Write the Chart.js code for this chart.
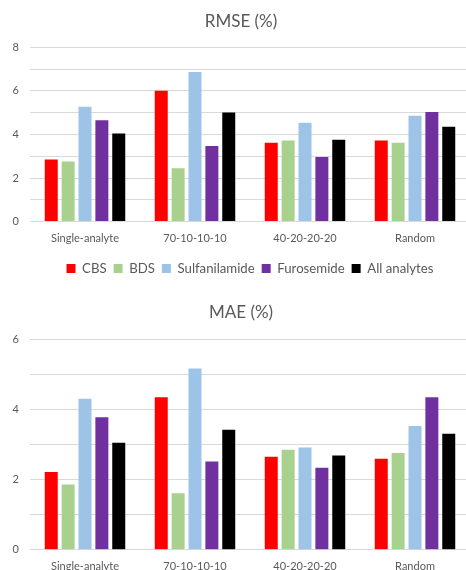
<!DOCTYPE html>
<html>
<head>
<meta charset="utf-8">
<script src="https://cdn.jsdelivr.net/npm/chart.js@4/dist/chart.umd.min.js"></script>
<style>
  html, body { margin: 0; padding: 0; background: #fff; }
  body { width: 466px; height: 570px; overflow: hidden; position: relative; }
  .box { position: absolute; left: 0; width: 490px; }
  #top { top: 0; height: 285px; }
  #bottom { top: 285px; height: 300px; }
</style>
</head>
<body>
<div class="box" id="top"><canvas id="rmseChart"></canvas></div>
<div class="box" id="bottom"><canvas id="maeChart"></canvas></div>
<script>
var categories = ['Single-analyte', '70-10-10-10', '40-20-20-20', 'Random'];
var seriesNames = ['CBS', 'BDS', 'Sulfanilamide', 'Furosemide', 'All analytes'];
var seriesColors = ['#FF0000', '#A9D18E', '#9DC3E6', '#7030A0', '#000000'];

// RMSE (%) per analyte
var rmseCBS = [2.85, 6.01, 3.62, 3.73];
var rmseBDS = [2.76, 2.45, 3.73, 3.62];
var rmseSulf = [5.27, 6.87, 4.54, 4.86];
var rmseFuro = [4.65, 3.47, 2.97, 5.03];
var rmseAll = [4.05, 5.01, 3.76, 4.36];

// MAE (%) per analyte
var maeCBS = [2.22, 4.35, 2.65, 2.60];
var maeBDS = [1.86, 1.61, 2.85, 2.76];
var maeSulf = [4.31, 5.17, 2.92, 3.53];
var maeFuro = [3.78, 2.52, 2.34, 4.35];
var maeAll = [3.05, 3.42, 2.69, 3.31];

var textColor = '#595959';
var gridColor = '#D9D9D9';
var fontName = 'Lato, Carlito, Calibri, sans-serif';

function makeSets(values) {
    return values.map(function (v, i) {
        return {
            label: seriesNames[i],
            data: v,
            backgroundColor: seriesColors[i],
            borderWidth: 0,
            categoryPercentage: 0.767,
            barPercentage: 0.77
        };
    });
}

function makeChart(id, title, values, yMax, opts) {
    var ctx = document.getElementById(id).getContext('2d');
    return new Chart(ctx, {
        type: 'bar',
        data: {
            labels: categories,
            datasets: makeSets(values)
        },
        options: {
            responsive: true,
            maintainAspectRatio: false,
            animation: false,
            layout: {
                padding: { left: 12, right: 20, top: 0, bottom: opts.bottomPad }
            },
            plugins: {
                title: {
                    display: true,
                    text: title,
                    color: textColor,
                    font: { family: fontName, size: 17, weight: 'normal' },
                    padding: { top: opts.titleTop, bottom: opts.titleBottom }
                },
                legend: {
                    display: opts.legend,
                    position: 'bottom',
                    fullSize: false,
                    labels: {
                        color: textColor,
                        boxWidth: 9,
                        boxHeight: 9,
                        padding: 7,
                        font: { family: fontName, size: 13.2 }
                    }
                },
                tooltip: { enabled: false }
            },
            scales: {
                x: {
                    grid: { display: false, drawTicks: false },
                    border: { display: false },
                    ticks: {
                        color: textColor,
                        padding: opts.xPad,
                        font: { family: fontName, size: 11 }
                    }
                },
                y: {
                    min: 0,
                    max: yMax,
                    border: { display: false },
                    grid: { color: gridColor, lineWidth: 1, drawTicks: false },
                    ticks: {
                        stepSize: 1,
                        padding: 11,
                        color: textColor,
                        font: { family: fontName, size: 11 },
                        callback: function (v) { return v % 2 === 0 ? String(v) : ''; }
                    },
                    afterFit: function (scale) { scale.width = 18; }
                }
            }
        }
    });
}

makeChart('rmseChart', 'RMSE (%)', [rmseCBS, rmseBDS, rmseSulf, rmseFuro, rmseAll], 8,
    { legend: true, titleTop: 11, titleBottom: 16, bottomPad: 0, xPad: 10 });
makeChart('maeChart', 'MAE (%)', [maeCBS, maeBDS, maeSulf, maeFuro, maeAll], 6,
    { legend: false, titleTop: 17, titleBottom: 17, bottomPad: 2, xPad: 10 });
</script>
</body>
</html>
